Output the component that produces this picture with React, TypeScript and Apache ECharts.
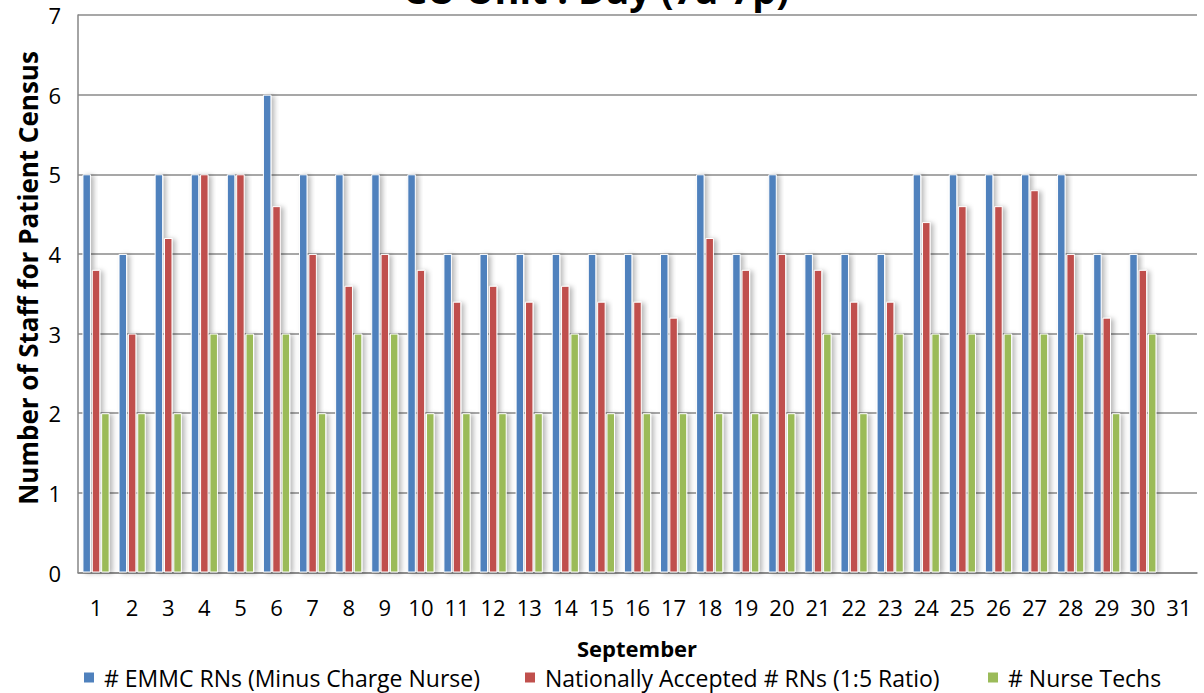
import React, { useEffect, useRef } from "react";
import * as echarts from "echarts";

const days = ["1","2","3","4","5","6","7","8","9","10","11","12","13","14","15","16","17","18","19","20","21","22","23","24","25","26","27","28","29","30","31"];
const emmcRNs = [5,4,5,5,5,6,5,5,5,5,4,4,4,4,4,4,4,5,4,5,4,4,4,5,5,5,5,5,4,4,null];
const nationalRNs = [3.8,3.0,4.2,5,5,4.6,4.0,3.6,4.0,3.8,3.4,3.6,3.4,3.6,3.4,3.4,3.2,4.2,3.8,4.0,3.8,3.4,3.4,4.4,4.6,4.6,4.8,4.0,3.2,3.8,null];
const nurseTechs = [2,2,2,3,3,3,2,3,3,2,2,2,2,3,2,2,2,2,2,2,3,2,3,3,3,3,3,3,2,3,null];
const yTicks = [0, 7, 1];

const seriesNames = [
  "# EMMC RNs (Minus Charge Nurse)",
  "Nationally Accepted # RNs (1:5 Ratio)",
  "# Nurse Techs",
];
const colors = ["#4F81BD", "#C0504D", "#9BBB59"];
const FONT = "'Open Sans', sans-serif";

export default function App() {
  const ref = useRef<HTMLDivElement>(null);
  useEffect(() => {
    document.body.style.margin = "0";
    if (!ref.current) return;
    const chart = echarts.init(ref.current, null, { renderer: "svg" });
    const barStyle = (c: string) => ({
      color: c,
      borderColor: "#ffffff",
      borderWidth: 1,
      shadowColor: "rgba(0,0,0,0.28)",
      shadowBlur: 5,
      shadowOffsetX: 3,
      shadowOffsetY: 1,
    });
    const dataSets = [emmcRNs, nationalRNs, nurseTechs];
    const legendLefts = [82, 523, 986];
    chart.setOption({
      animation: false,
      color: colors,
      textStyle: { fontFamily: FONT },
      grid: { left: 78, right: 7, top: 15, bottom: 120.5 },
      xAxis: {
        type: "category",
        data: days,
        axisTick: { show: false },
        axisLine: { lineStyle: { color: "#868686", width: 1.5 } },
        axisLabel: { fontSize: 22, color: "#000", margin: 23, fontFamily: FONT, interval: 0 },
      },
      yAxis: {
        type: "value",
        min: yTicks[0],
        max: yTicks[1],
        interval: yTicks[2],
        axisLine: { show: true, lineStyle: { color: "#868686", width: 1.5 } },
        axisTick: { show: false },
        axisLabel: { fontSize: 22, color: "#000", margin: 17, fontFamily: FONT },
        splitLine: {
          show: true,
          lineStyle: { color: "#8a8a8a", width: 1.5 },
        },
      },
      legend: seriesNames.map((n, i) => ({
        data: [n],
        left: legendLefts[i],
        top: 666,
        padding: 0,
        icon: "rect",
        itemWidth: 12,
        itemHeight: 12,
        itemGap: 0,
        textStyle: { fontSize: 23, color: "#000", fontFamily: FONT, padding: [0, 0, 0, 4] },
      })),
      series: seriesNames.map((n, i) => ({
        name: n,
        type: "bar",
        data: dataSets[i],
        barWidth: 8.5,
        barGap: "10%",
        itemStyle: barStyle(colors[i]),
      })),
      graphic: [
        {
          type: "text",
          x: 596,
          y: -11,
          style: {
            text: "CU Unit : Day (7a-7p)",
            font: `bold 38px ${FONT}`,
            fill: "#000",
            align: "center",
            verticalAlign: "middle",
          },
        },
        {
          type: "text",
          x: 637,
          y: 648,
          style: {
            text: "September",
            font: `bold 22px ${FONT}`,
            fill: "#000",
            align: "center",
            verticalAlign: "middle",
          },
        },
        {
          type: "text",
          x: 28,
          y: 278,
          rotation: Math.PI / 2,
          style: {
            text: "Number of Staff for Patient Census",
            font: `bold 26px ${FONT}`,
            fill: "#000",
            align: "center",
            verticalAlign: "middle",
          },
        },
      ],
    });
    return () => chart.dispose();
  }, []);
  return <div ref={ref} style={{ width: 1204, height: 693 }} />;
}
